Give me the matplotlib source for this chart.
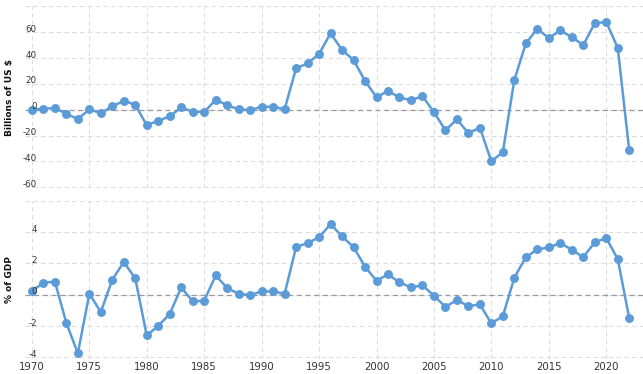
import numpy as np
import matplotlib
matplotlib.use("Agg")
import matplotlib.pyplot as plt
import matplotlib.transforms as mtrans

years = list(range(1970, 2023))
usd_bn = [0.0, 0.8, 1.3, -3.1, -7.2, 0.3, -2.6, 2.6, 6.9, 3.8,
          -12.0, -8.5, -5.1, 1.8, -1.5, -1.8, 7.7, 3.6, 0.3, -0.3,
          2.3, 2.3, 0.5, 32.0, 35.9, 43.1, 59.2, 46.2, 38.5, 22.3,
          9.7, 14.6, 9.5, 7.4, 10.5, -1.8, -15.9, -7.4, -18.2, -13.8,
          -40.0, -32.6, 23.1, 51.3, 62.6, 55.4, 61.3, 56.2, 50.0, 66.9,
          67.9, 47.9, -31.3]
pct_gdp = [0.23, 0.77, 0.83, -1.8, -3.74, 0.06, -1.1, 0.96, 2.09, 1.04,
           -2.6, -1.98, -1.23, 0.47, -0.43, -0.38, 1.23, 0.43, 0.06, -0.02,
           0.21, 0.21, 0.06, 3.04, 3.3, 3.66, 4.51, 3.72, 3.04, 1.79,
           0.89, 1.3, 0.79, 0.47, 0.6, -0.06, -0.77, -0.34, -0.72, -0.62,
           -1.83, -1.36, 1.09, 2.4, 2.89, 3.02, 3.3, 2.87, 2.4, 3.34,
           3.62, 2.28, -1.49]
top_ticks = [-60, -40, -20, 0, 20, 40, 60, 80]
bot_ticks = [-4, -2, 0, 2, 4, 6]
x_ticks = [1970, 1975, 1980, 1985, 1990, 1995, 2000, 2005, 2010, 2015, 2020]

COL = "#5b9bd8"
W, H = 643, 374
fig = plt.figure(figsize=(W/100, H/100), dpi=100)
ax1 = fig.add_axes([25/W, (H-188)/H, 1-25/W, 181.7/H])
ax2 = fig.add_axes([25/W, 15/H, 1-25/W, 158.3/H])

def style(ax, ticks, ylim, label):
  ax.set_xlim(1969.4, 2023.2)
  ax.set_ylim(*ylim)
  ax.set_xticks(x_ticks)
  ax.set_yticks(ticks)
  ax.set_yticklabels([])
  for s in ax.spines.values():
    s.set_visible(False)
  ax.grid(True, color="#dddddd", linestyle=(0, (4, 3)), linewidth=0.8)
  ax.axhline(0, color="#999999", linestyle=(0, (4, 3)), linewidth=0.9, zorder=1)
  ax.tick_params(axis="y", length=0)
  ax.tick_params(axis="x", length=0, pad=2.5, labelsize=7.3, labelcolor="#333333")
  # y labels drawn as text so they sit above the line
  tr = mtrans.blended_transform_factory(ax.transAxes, ax.transData)
  tr = tr + mtrans.ScaledTranslation(0, 3/100, fig.dpi_scale_trans)
  for t in ticks[:-1]:
    ax.text(12/618, t, str(t), transform=tr, ha="right", va="center",
            fontsize=6.3, color="#333333", zorder=5)
  ax.set_ylabel(label, fontsize=6.5, fontweight="bold", color="#111111")
  ax.yaxis.set_label_coords(-11/618, 0.5)
  ax.set_axisbelow(True)

ax1.plot(years, usd_bn, color=COL, linewidth=1.8, marker="o", markersize=5.4, zorder=3)
ax2.plot(years, pct_gdp, color=COL, linewidth=1.8, marker="o", markersize=5.4, zorder=3)
style(ax1, top_ticks, (-60.5, 80), "Billions of US $")
style(ax2, bot_ticks, (-4.1, 6), "% of GDP")
ax1.tick_params(axis="x", labelbottom=False)

fig.savefig("out.png", dpi=100)
